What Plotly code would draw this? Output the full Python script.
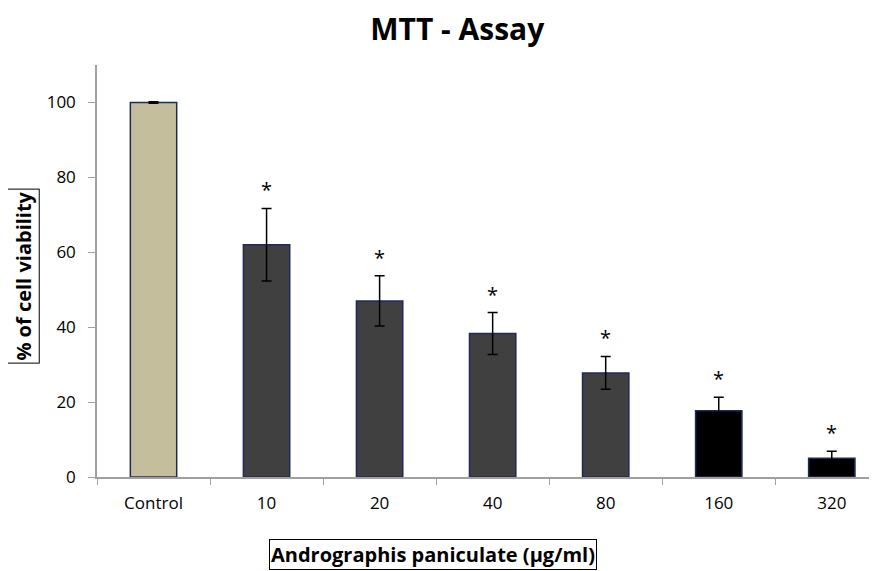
import plotly.graph_objects as go

categories = ["Control", "10", "20", "40", "80", "160", "320"]
viability = [100.0, 62.0, 47.0, 38.3, 27.8, 17.7, 5.0]
sem = [0.2, 9.7, 6.7, 5.6, 4.4, 3.6, 1.9]
bar_colors = ["#C4BE9C", "#404040", "#404040", "#404040", "#404040", "#000000", "#000000"]
significant = [False, True, True, True, True, True, True]

FONT = "Open Sans"

fig = go.Figure()
fig.add_trace(go.Bar(
    x=categories,
    y=viability,
    marker=dict(color=bar_colors, line=dict(color="#1F2A5C", width=1.5)),
    error_y=dict(type="data", array=sem, visible=True, color="#000000",
                 thickness=1.5, width=5),
    width=0.41,
    hoverinfo="x+y",
))

for i, (v, e, s) in enumerate(zip(viability, sem, significant)):
    if s:
        fig.add_annotation(x=i, y=v + e, text="*", showarrow=False,
                           xref="x", yref="y",
                           yanchor="bottom", yshift=3,
                           font=dict(family=FONT, size=20, color="#000000"))

fig.add_annotation(xref="paper", yref="paper", x=0.431, y=-0.2257,
                   xanchor="center", yanchor="bottom",
                   text="<b>Andrographis paniculate (µg/ml)</b>", showarrow=False,
                   bordercolor="#000000", borderwidth=1, borderpad=1,
                   font=dict(family=FONT, size=20, color="#000000"))

fig.add_annotation(xref="paper", yref="paper", x=-0.094, y=0.488,
                   xanchor="center", yanchor="middle", textangle=-90,
                   text="<b>% of cell viability</b>", showarrow=False,
                   bordercolor="#000000", borderwidth=1, borderpad=2,
                   font=dict(family=FONT, size=20, color="#000000"))

fig.update_layout(
    width=869, height=563,
    margin=dict(l=89, r=0, t=57, b=94),
    paper_bgcolor="white", plot_bgcolor="white",
    showlegend=False,
    title=dict(text="<b>MTT - Assay</b>", x=0.517, xanchor="center",
               y=0.961, yanchor="middle",
               font=dict(family=FONT, size=30, color="#000000")),
    xaxis=dict(type="category", range=[-0.5, 6.4], showline=True,
               linecolor="#A0A0A0", linewidth=1.5,
               ticks="outside", tickson="boundaries", ticklen=6, tickcolor="#A0A0A0",
               ticklabelstandoff=10,
               showgrid=False, zeroline=False,
               tickfont=dict(family=FONT, size=17, color="#000000")),
    yaxis=dict(range=[0, 110], tickvals=[0, 20, 40, 60, 80, 100],
               showline=True, linecolor="#A0A0A0", linewidth=1.5,
               ticks="outside", ticklen=7, tickcolor="#A0A0A0",
               ticklabelstandoff=9,
               showgrid=False, zeroline=False,
               tickfont=dict(family=FONT, size=17, color="#000000")),
)

fig.write_html("out.html")
